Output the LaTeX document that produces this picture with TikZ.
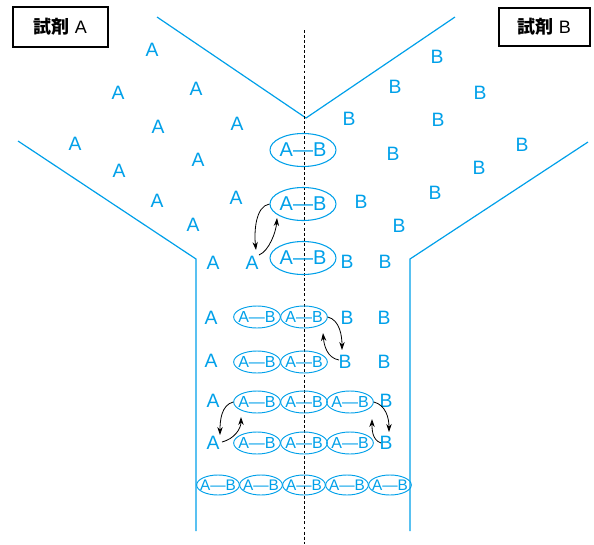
\documentclass[tikz,border=0pt]{standalone}
\usepackage{fontspec}
\setmainfont{Liberation Sans}
\newfontfamily\jpfont{Noto Sans CJK JP}
\usetikzlibrary{arrows.meta,shapes.geometric}
\definecolor{cy}{RGB}{0,160,233}
\begin{document}
\begin{tikzpicture}[x=0.75pt,y=-0.75pt,
  wall/.style={draw=cy,line width=0.9pt},
  lone/.style={text=cy,font=\fontsize{14.5}{16}\selectfont,inner sep=0pt},
  bigpair/.style={draw=cy,line width=0.8pt,ellipse,inner sep=0pt,minimum width=49.5pt,minimum height=24.75pt,text=cy,font=\fontsize{15}{17}\selectfont},
  pair/.style={draw=cy,line width=0.7pt,ellipse,inner sep=0pt,minimum width=35pt,minimum height=16.5pt,text=cy,font=\fontsize{12}{14}\selectfont},
  lowpair/.style={draw=cy,line width=0.7pt,ellipse,inner sep=0pt,minimum width=32pt,minimum height=15pt,text=cy,font=\fontsize{11.5}{13}\selectfont},
  labelbox/.style={draw=black,line width=0.8pt,inner sep=0pt,font=\fontsize{13.5}{15}\selectfont},
  arr/.style={draw=black,line width=0.6pt,-{Stealth[length=6pt,width=4pt]}}]
\useasboundingbox (0,0) rectangle (594,544);

% funnel walls
\draw[wall] (157,17) -- (306,118) -- (455,17);
\draw[wall] (18,141) -- (196,259) -- (196,531);
\draw[wall] (588,142) -- (410,259) -- (410,531);
% centre line
\draw[black,line width=0.6pt,dash pattern=on 2.2pt off 1.6pt] (304,30) -- (304,544);

% label boxes
\node[labelbox,minimum width=71.25pt,minimum height=30pt] (labA) at (60.5,27) {{\jpfont\bfseries 試剤} A};
\node[labelbox,minimum width=68.25pt,minimum height=28.5pt] (labB) at (544.5,27) {{\jpfont\bfseries 試剤} B};

% lone A molecules
\foreach \n/\x/\y in {1/152/50,2/118/93,3/196/89,4/158/127,5/237/124,6/75/144,7/119/171,8/198/160,9/157/201,10/236/198,11/193/225,12/213/263,13/252/263,14/211/318,15/211/361,16/213/401,17/213/443}
  \node[lone] (a\n) at (\x,\y) {A};
% lone B molecules
\foreach \n/\x/\y in {1/437/57,2/395/87,3/480/93,4/349/119,5/438/120,6/522/145,7/393/154,8/479/168,9/361/202,10/435/193,11/399/226,12/347/262,13/385/262,14/347/318,15/384/318,16/345/362,17/384/362,18/386/401,19/386/443}
  \node[lone] (b\n) at (\x,\y) {B};

% large pairs
\node[bigpair] (e1) at (303,150) {\makebox[0pt]{A—B}};
\node[bigpair] (e2) at (303,204) {\makebox[0pt]{A—B}};
\node[bigpair] (e3) at (303,258) {\makebox[0pt]{A—B}};

% rows of pairs
\node[pair] (r1a) at (257,317) {\makebox[0pt]{A—B}};
\node[pair] (r1b) at (304,317) {\makebox[0pt]{A—B}};
\node[pair] (r2a) at (257,362) {\makebox[0pt]{A—B}};
\node[pair] (r2b) at (304,362) {\makebox[0pt]{A—B}};
\node[pair] (r3a) at (257,402) {\makebox[0pt]{A—B}};
\node[pair] (r3b) at (304,402) {\makebox[0pt]{A—B}};
\node[pair] (r3c) at (350,402) {\makebox[0pt]{A—B}};
\node[pair] (r4a) at (257,443) {\makebox[0pt]{A—B}};
\node[pair] (r4b) at (304,443) {\makebox[0pt]{A—B}};
\node[pair] (r4c) at (350,443) {\makebox[0pt]{A—B}};
\node[lowpair] (r5a) at (218,485) {\makebox[0pt]{A—B}};
\node[lowpair] (r5b) at (261,485) {\makebox[0pt]{A—B}};
\node[lowpair] (r5c) at (304,485) {\makebox[0pt]{A—B}};
\node[lowpair] (r5d) at (347,485) {\makebox[0pt]{A—B}};
\node[lowpair] (r5e) at (390,485) {\makebox[0pt]{A—B}};

% exchange arrows
\draw[arr] (e2.west) .. controls +(-14,2) and +(-2,-18) .. ([shift={(4,-13)}]a13.center);
\draw[arr] ([shift={(7,-8)}]a13.center) .. controls +(10,-4) and +(-1,14) .. ([shift={(-26,14)}]e2.center);

\draw[arr] (r1b.east) .. controls +(12,3) and +(0,-14) .. ([shift={(-3,-12)}]b16.center);
\draw[arr] ([shift={(-6,-2)}]b16.center) .. controls +(-12,-2) and +(1,12) .. ([shift={(19,16)}]r1b.center);

\draw[arr] (r3a.west) .. controls +(-12,3) and +(0,-14) .. ([shift={(7,-8)}]a17.center);
\draw[arr] ([shift={(9,-1)}]a17.center) .. controls +(12,-3) and +(0,12) .. ([shift={(-16,15)}]r3a.center);

\draw[arr] (r3c.east) .. controls +(12,3) and +(0,-14) .. ([shift={(3,-11)}]b19.center);
\draw[arr] ([shift={(-5,0)}]b19.center) .. controls +(-9,-3) and +(0,10) .. ([shift={(22,17)}]r3c.center);
\end{tikzpicture}
\end{document}
